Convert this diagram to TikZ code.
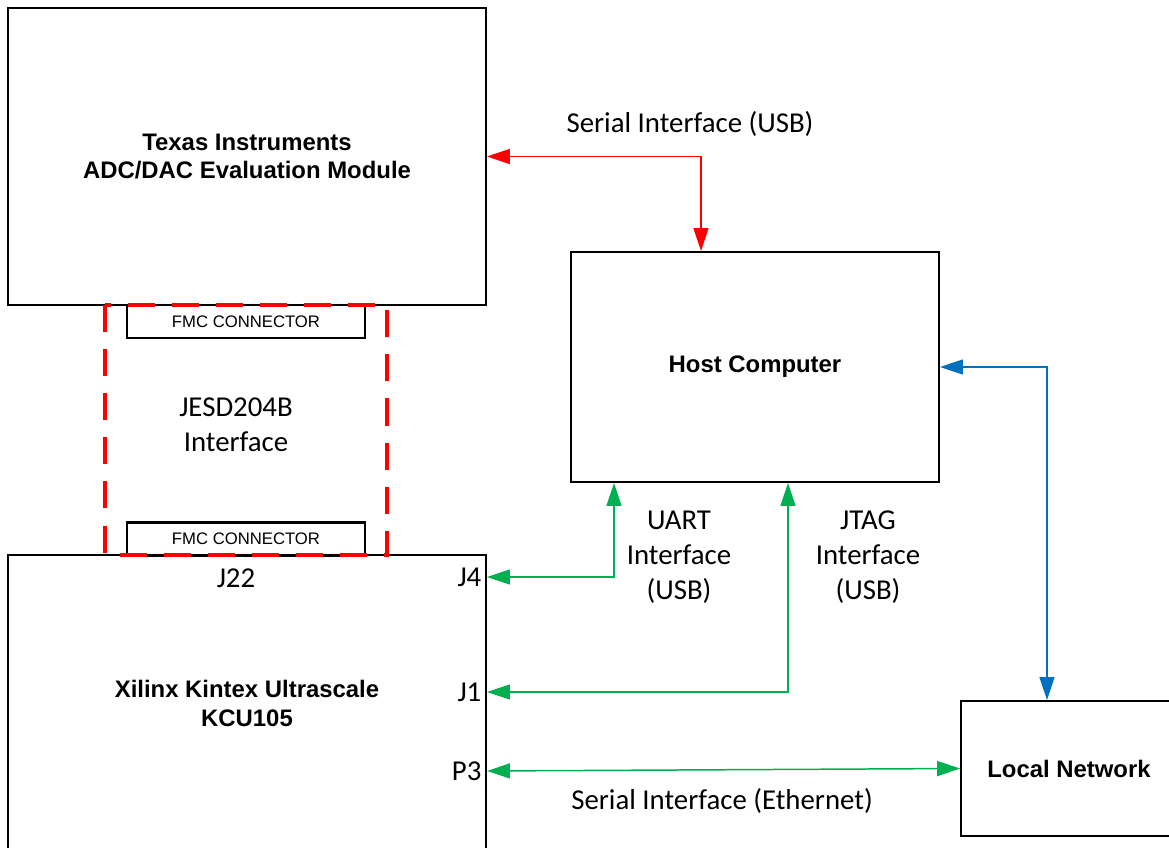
\documentclass[tikz,border=0pt]{standalone}
\usepackage{fontspec}
\setmainfont{Carlito}
\newfontfamily\arialfont{Liberation Sans}
\usetikzlibrary{arrows.meta}
\definecolor{lnkred}{RGB}{255,0,0}
\definecolor{lnkblue}{RGB}{0,112,192}
\definecolor{lnkgreen}{RGB}{0,176,80}

\begin{document}
\begin{tikzpicture}[x=0.02cm,y=-0.02cm,
  box/.style={draw,line width=1.15pt,inner sep=0pt,align=center,
    font=\arialfont\bfseries\fontsize{13.6}{16}\selectfont},
  fmc/.style={draw,line width=1.15pt,fill=white,minimum width=4.76cm,minimum height=0.66cm,
    inner sep=0pt,font=\arialfont\fontsize{9.5}{11}\selectfont},
  lbl/.style={inner sep=1pt,align=center,font=\fontsize{16.4}{20}\selectfont},
  link/.style={line width=0.85pt,{Triangle[length=13pt,width=8.5pt]}-{Triangle[length=13pt,width=8.5pt]}}]
\useasboundingbox (0,0) rectangle (1169,848);
\clip (0,0) rectangle (1169,848);

\node[box,minimum width=9.56cm,minimum height=5.94cm] (ti) at (247,156.5) {Texas Instruments\\ADC/DAC Evaluation Module};
\node[box,minimum width=7.36cm,minimum height=4.6cm] (host) at (755,367) {Host Computer};
\node[box,minimum width=9.56cm,minimum height=5.94cm] (kcu) at (247,703.5) {Xilinx Kintex Ultrascale\\KCU105};
\node[box,minimum width=4.32cm,minimum height=2.7cm] (lan) at (1069,768.5) {Local Network};

\node[fmc] (fmctop) at (246,321.5) {FMC CONNECTOR};
\node[fmc] (fmcbot) at (246,539) {FMC CONNECTOR};
\draw[lnkred,line width=2pt,dash pattern=on 15.4pt off 9.7pt] (105,305) rectangle (387,555);
\node[lbl] (jesd) at (236,425) {JESD204B\\Interface};

\coordinate (pj4) at (kcu.east |- 0,577);
\coordinate (pj1) at (kcu.east |- 0,692);
\coordinate (pp3) at (kcu.east |- 0,771);

\draw[link,lnkred] (ti.east) -| (host.north -| 701,0);
\draw[link,lnkblue] (host.east) -| (lan.north -| 1047,0);
\draw[link,lnkgreen] (pj4) -| (host.south -| 614,0);
\draw[link,lnkgreen] (pj1) -| (host.south -| 788,0);
\draw[link,lnkgreen] (pp3) -- (lan.west);

\node[lbl] (usb) at (690,124) {Serial Interface (USB)};
\node[lbl] (uart) at (679,557) {UART\\Interface\\(USB)};
\node[lbl] (jtag) at (868,557) {JTAG\\Interface\\(USB)};
\node[lbl] (eth) at (722,801) {Serial Interface (Ethernet)};
\node[lbl] (j22) at (236,578) {J22};
\node[lbl,anchor=east] (j4) at ([xshift=-2pt]pj4) {J4};
\node[lbl,anchor=east] (j1) at ([xshift=-2pt]pj1) {J1};
\node[lbl,anchor=east] (p3) at ([xshift=-2pt]pp3) {P3};
\end{tikzpicture}
\end{document}
